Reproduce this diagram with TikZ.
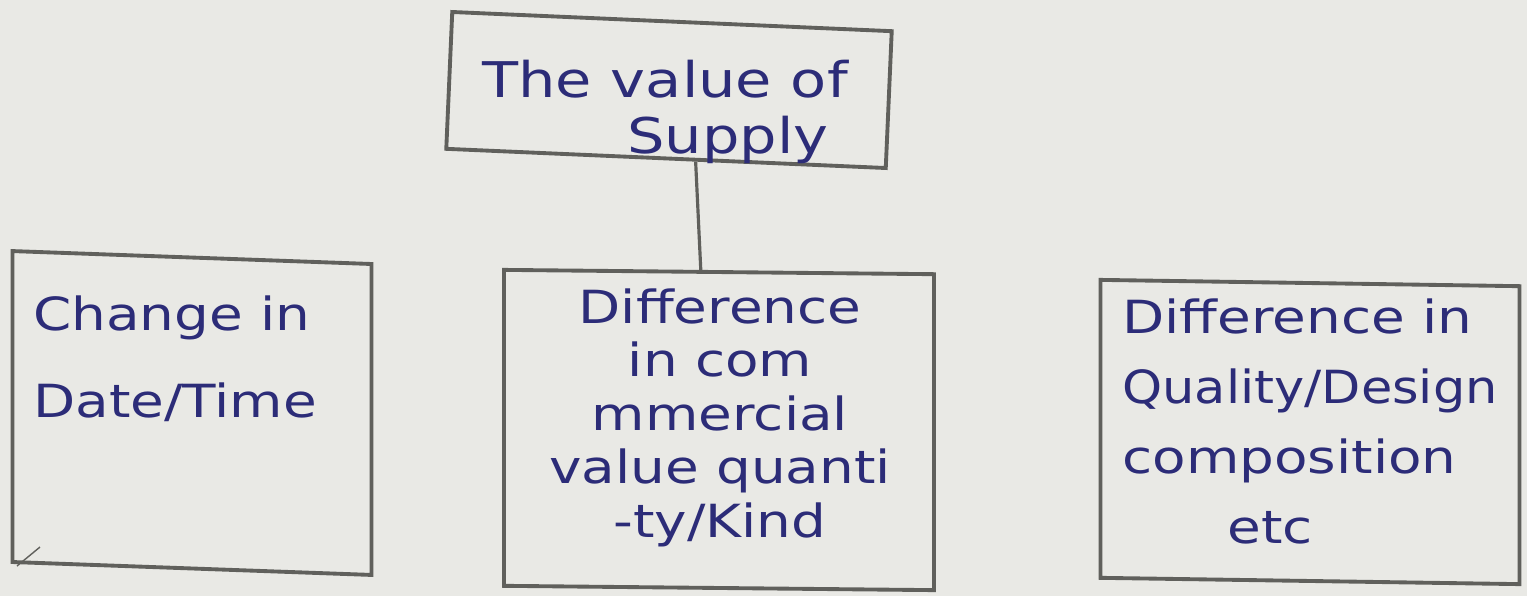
\documentclass[tikz,border=0pt]{standalone}
\usepackage{fontspec}
\newfontfamily\handfont[FakeStretch=1.2]{DejaVu Sans}
\usetikzlibrary{calc}
\definecolor{paper}{RGB}{233,233,229}
\definecolor{pencil}{RGB}{96,96,92}
\definecolor{ink}{RGB}{44,44,120}
\begin{document}
\begin{tikzpicture}[x=0.02cm,y=-0.02cm,
  box/.style={draw=pencil, line width=2.2pt, rectangle, inner sep=0pt},
  conn/.style={draw=pencil, line width=1.8pt},
  handtext/.style={text=ink, inner sep=0pt},
  big/.style={font=\handfont\fontsize{28}{32}\selectfont},
  small/.style={font=\handfont\fontsize{26}{30.5}\selectfont}]

% paper
\fill[paper] (0,0) rectangle (1527,596);
\useasboundingbox (0,0) rectangle (1527,596);

% boxes
\node[box, rotate=-2.5, minimum width=8.8cm, minimum height=2.74cm] (top) at (669,90) {};
\node[box, yslant=-0.036, minimum width=7.18cm, minimum height=6.22cm] (left) at (192,413) {};
\node[box, yslant=-0.01, minimum width=8.6cm, minimum height=6.32cm] (mid) at (719,430) {};
\node[box, yslant=-0.015, minimum width=8.38cm, minimum height=5.96cm] (right) at (1310,432) {};

% connector from the top box down to the middle box
\draw[conn] ($(top.south west)!0.567!(top.south east)$) coordinate (ctop)
  -- ($(mid.north west)!0.458!(mid.north east)$) coordinate (cmid);

% small pencil tick in the lower left corner
\coordinate (tickA) at (40,547);
\coordinate (tickB) at (17,566);
\draw[draw=pencil, line width=0.8pt] (tickA) -- (tickB);

% texts
\node[handtext, big, align=left, anchor=north west] (ttop) at (482,60)
  {The value of\\\hspace*{2.9cm}Supply};
\node[handtext, font=\handfont\fontsize{26}{49.5}\selectfont, align=left, anchor=north west] (tleft) at (33,295)
  {Change in\\Date/Time};
\node[handtext, small, align=center, anchor=north] (tmid) at (720,288)
  {Difference\\in com\\mmercial\\value quanti\\-ty/Kind};
\node[handtext, font=\handfont\fontsize{26}{40}\selectfont, align=left, anchor=north west] (tright) at (1122,298)
  {Difference in\\\scalebox{0.93}[1]{Quality/Design}\\composition\\\hspace*{2.1cm}etc};
\end{tikzpicture}
\end{document}
